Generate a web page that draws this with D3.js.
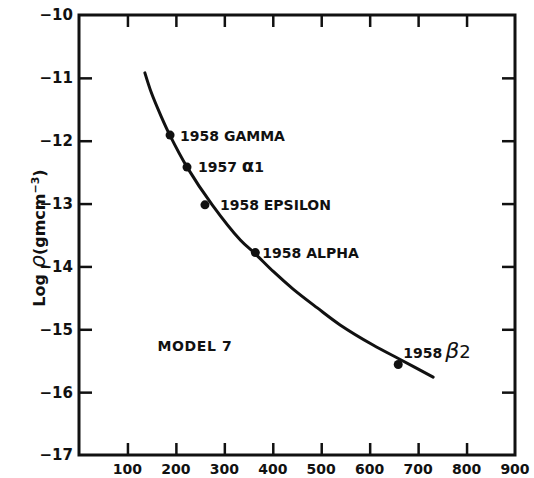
<!DOCTYPE html>
<html>
<head>
<meta charset="utf-8">
<script src="https://cdn.jsdelivr.net/npm/d3@7"></script>
<style>
  html, body { margin: 0; padding: 0; background: #fff; }
  svg text { font-family: "DejaVu Sans", "Liberation Sans", sans-serif; font-weight: bold; fill: #111; }
</style>
</head>
<body>
<svg id="chart" width="534" height="478"></svg>
<script>
// Model 7 density curve: log density against altitude (km)
const curveAltitude = [136, 150, 170, 188, 223, 275, 333, 364, 401, 442, 492, 539, 607, 663, 731];
const curveLogRho   = [-10.92, -11.25, -11.62, -11.92, -12.42, -13.02, -13.58, -13.8, -14.08, -14.36, -14.66, -14.93, -15.25, -15.48, -15.76];

// Satellite-derived observations
const satNames    = ["1958 GAMMA", "1957 \u03b11", "1958 EPSILON", "1958 ALPHA", "1958 \u03b22"];
const satAltitude = [188, 223, 260, 364, 659];
const satLogRho   = [-11.91, -12.42, -13.02, -13.78, -15.56];

const xTicks = [100, 200, 300, 400, 500, 600, 700, 800, 900];
const yTicks = [-10, -11, -12, -13, -14, -15, -16, -17];

const svg = d3.select("#chart");
const plotL = 79, plotR = 515, plotT = 15, plotB = 455;

const x = d3.scaleLinear().domain([0, 900]).range([plotL, plotR]);
const y = d3.scaleLinear().domain([-10, -17]).range([plotT, plotB]);

const ink = "#111";

// Frame
svg.append("rect")
  .attr("x", plotL).attr("y", plotT)
  .attr("width", plotR - plotL).attr("height", plotB - plotT)
  .attr("fill", "none").attr("stroke", ink).attr("stroke-width", 3);

// Inward ticks on all four sides
const fmt = d => d < 0 ? "\u2212" + Math.abs(d) : String(d);
const innerY = yTicks.filter(d => d > -17 && d < -10);
const innerX = xTicks.filter(d => d < 900);

const axL = svg.append("g").attr("transform", `translate(${plotL},0)`)
  .call(d3.axisRight(y).tickValues(innerY).tickSize(13).tickFormat(""));
const axR = svg.append("g").attr("transform", `translate(${plotR},0)`)
  .call(d3.axisLeft(y).tickValues(innerY).tickSize(13).tickFormat(""));
const axB = svg.append("g").attr("transform", `translate(0,${plotB})`)
  .call(d3.axisTop(x).tickValues(innerX).tickSize(12).tickFormat(""));
const axT = svg.append("g").attr("transform", `translate(0,${plotT})`)
  .call(d3.axisBottom(x).tickValues(innerX).tickSize(12).tickFormat(""));

[axL, axR, axB, axT].forEach(g => {
  g.select(".domain").remove();
  g.selectAll(".tick line").attr("stroke", ink).attr("stroke-width", 2.5);
});

// Tick labels
svg.append("g").selectAll("text").data(yTicks).join("text")
  .attr("x", plotL - 6).attr("y", d => y(d))
  .attr("dy", "0.36em").attr("text-anchor", "end")
  .style("font-size", "15px")
  .text(fmt);

svg.append("g").selectAll("text").data(xTicks).join("text")
  .attr("x", d => x(d)).attr("y", plotB + 19)
  .attr("text-anchor", "middle")
  .style("font-size", "14px")
  .text(fmt);

// Y-axis title
const yTitle = svg.append("text")
  .attr("transform", `translate(45,${(plotT + plotB) / 2 + 3}) rotate(-90)`)
  .attr("text-anchor", "middle")
  .style("font-size", "16px");
yTitle.append("tspan").text("Log ");
yTitle.append("tspan").style("font-style", "italic").style("font-size", "21px").style("font-weight", "normal").text("\u03c1");
yTitle.append("tspan").text("(gmcm");
yTitle.append("tspan").attr("dy", "-6").style("font-size", "11px").text("\u22123");
yTitle.append("tspan").attr("dy", "6").text(")");

// Model curve
const pts = curveAltitude.map((a, i) => [a, curveLogRho[i]]);
svg.append("path")
  .datum(pts)
  .attr("fill", "none").attr("stroke", ink).attr("stroke-width", 3)
  .attr("stroke-linecap", "round")
  .attr("d", d3.line().x(d => x(d[0])).y(d => y(d[1])).curve(d3.curveCatmullRom.alpha(0.5)));

// Observation dots
svg.append("g").selectAll("circle").data(satAltitude).join("circle")
  .attr("cx", d => x(d)).attr("cy", (d, i) => y(satLogRho[i]))
  .attr("r", 4.5).attr("fill", ink);

// Observation labels
const labelDx = [10, 11, 15, 7, 5];
const labelDy = [1, 0, 0, 0, -12];
const labels = svg.append("g");
satNames.forEach((name, i) => {
  const t = labels.append("text")
    .attr("x", x(satAltitude[i]) + labelDx[i])
    .attr("y", y(satLogRho[i]) + labelDy[i])
    .attr("dy", "0.36em")
    .style("font-size", "14px");
  const parts = name.split(" ");
  const rest = parts[1];
  if (rest.startsWith("\u03b1")) {
    t.append("tspan").text(parts[0] + " ");
    t.append("tspan").style("font-size", "18px").text("\u03b1");
    t.append("tspan").text(rest.slice(1));
  } else if (rest.startsWith("\u03b2")) {
    t.append("tspan").text(parts[0]);
    t.append("tspan").attr("dx", 3).style("font-size", "22px").style("font-style", "italic").style("font-weight", "normal").text("\u03b2");
    t.append("tspan").style("font-size", "18px").style("font-weight", "normal").text(rest.slice(1));
  } else {
    t.append("tspan").text(parts[0] + " ");
    t.append("tspan").text(rest);
  }
});

// Model tag
svg.append("text")
  .attr("x", x(162)).attr("y", y(-15.27))
  .attr("dy", "0.36em")
  .style("font-size", "14px")
  .style("letter-spacing", "0.6px")
  .text("MODEL 7");
</script>
</body>
</html>
